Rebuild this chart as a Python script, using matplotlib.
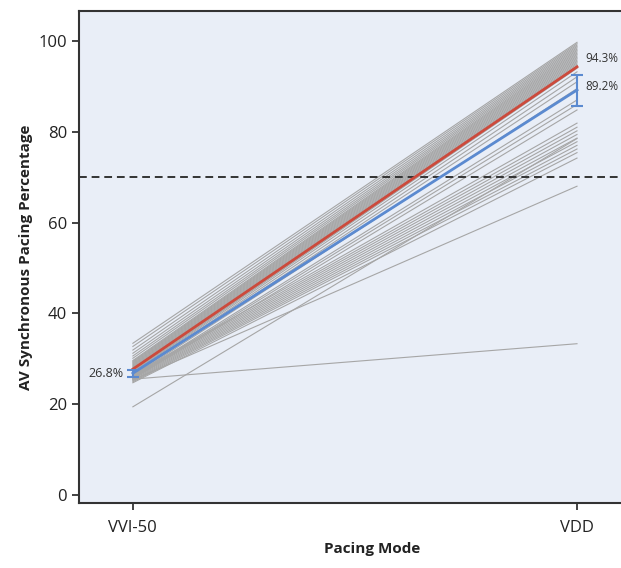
import matplotlib
matplotlib.use("Agg")
import matplotlib.pyplot as plt

plt.rcParams['font.family'] = ['Open Sans', 'DejaVu Sans']

modes = ["VVI-50", "VDD"]

# individual patient values (start at VVI-50, end at VDD)
gray_start = [33.4, 32.7, 31.9, 31.2, 30.6, 30.1, 29.6, 29.4, 29.2, 29.0,
              28.8, 28.6, 28.4, 28.2, 28.0, 27.8, 27.6, 27.4, 27.2, 27.0,
              26.8, 26.6, 26.4, 26.2, 26.0, 25.8, 25.6,
              26.5, 26.3, 26.1, 25.9, 25.7, 25.5, 25.3, 25.1, 24.9, 24.7, 19.4,
              25.5, 25.3]
gray_end = [99.7, 99.4, 99.1, 98.8, 98.5, 98.2, 97.9, 97.6, 97.3, 97.0,
            96.7, 96.4, 96.1, 95.8, 95.5, 95.2, 94.9, 94.6, 94.3, 94.0,
            93.2, 92.1, 91.0, 89.5, 87.0, 86.0, 84.8,
            81.9, 81.0, 80.2, 79.4, 78.6, 77.8, 77.0, 76.2, 75.4, 74.2, 78.5,
            33.3, 68.0]

median_vals = [27.7, 94.3]
mean_vals = [26.8, 89.2]
mean_lo = [26.0, 85.6]
mean_hi = [27.6, 92.6]
threshold = 70

fig = plt.figure(figsize=(6.21, 5.68), dpi=100)
ax = fig.add_axes([0.127, 0.1136, 0.9452, 0.867])
ax.set_facecolor('#e9eef7')

xs = [0, 1]
for s, e in zip(gray_start, gray_end):
    ax.plot(xs, [s, e], color='#a6a6a6', lw=0.8, zorder=2)

ax.plot(xs, median_vals, color='#cc4a3c', lw=2.0, zorder=4)
ax.plot(xs, mean_vals, color='#5b8ad0', lw=2.0, zorder=4)
yerr = [[m - l for m, l in zip(mean_vals, mean_lo)],
        [h - m for m, h in zip(mean_vals, mean_hi)]]
ax.errorbar(xs, mean_vals, yerr=yerr, fmt='none', ecolor='#5b8ad0',
            elinewidth=1.5, capsize=4, capthick=1.5, zorder=5)

ax.axhline(threshold, color='#333333', lw=1.4, ls=(0, (4, 2.5)), zorder=3)

ax.text(1.018, median_vals[1] + 0.3, f"{median_vals[1]}%", fontsize=8.5,
        color='#333333', ha='left', va='bottom')
ax.text(1.018, mean_vals[1] + 0.8, f"{mean_vals[1]}%", fontsize=8.5,
        color='#333333', ha='left', va='center')
ax.text(-0.02, mean_vals[0], f"{mean_vals[0]}%", fontsize=9,
        color='#333333', ha='right', va='center')

ax.set_xlim(-0.1216, 1.2)
ax.set_ylim(-1.9, 106.6)
ax.set_xticks(xs)
ax.set_xticklabels(modes)
ax.set_yticks([0, 20, 40, 60, 80, 100])
ax.tick_params(axis='both', labelsize=12, colors='#222222', length=5,
               width=1.2, direction='out')
ax.tick_params(axis='x', pad=7)
for sp in ax.spines.values():
    sp.set_color('#333333')
    sp.set_linewidth(1.5)

ax.set_xlabel("Pacing Mode", fontsize=11, fontweight='bold', color='#222222')
ax.set_ylabel("AV Synchronous Pacing Percentage", fontsize=11,
              fontweight='bold', color='#222222')

fig.savefig("out.png", dpi=100)
